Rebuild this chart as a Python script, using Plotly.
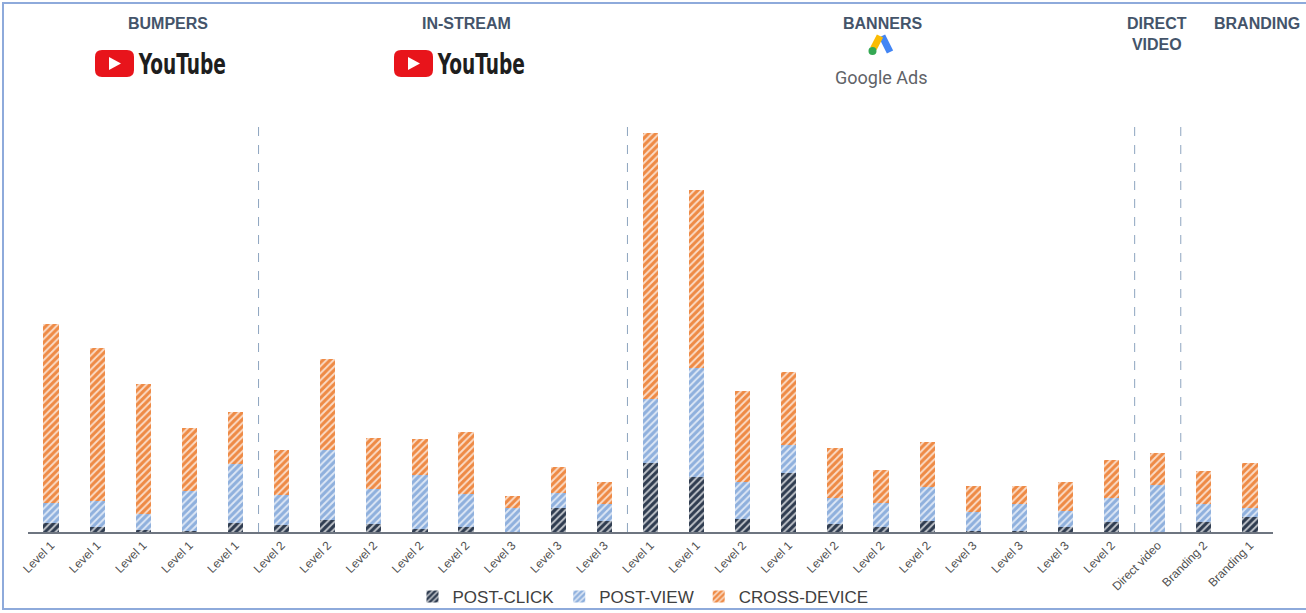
import plotly.graph_objects as go

# ---- data -------------------------------------------------------------
labels = [
    "Level 1", "Level 1", "Level 1", "Level 1", "Level 1",
    "Level 2", "Level 2", "Level 2", "Level 2", "Level 2",
    "Level 3", "Level 3", "Level 3",
    "Level 1", "Level 1", "Level 2", "Level 1", "Level 2", "Level 2",
    "Level 2", "Level 3", "Level 3", "Level 3", "Level 2",
    "Direct video", "Branding 2", "Branding 1",
]
post_click = [9, 5, 2, 1, 9, 7, 12, 8, 3, 5, 0, 24, 11,
              69, 55, 13, 59, 8, 5, 11, 1, 1, 5, 10, 0, 10, 15]
post_view = [20, 26, 16, 40, 59, 30, 70, 35, 54, 33, 24, 15, 17,
             64, 109, 37, 28, 26, 24, 34, 19, 27, 16, 24, 47, 18, 9]
cross_device = [179, 153, 130, 63, 52, 45, 91, 51, 36, 62, 12, 26, 22,
                266, 178, 91, 73, 50, 33, 45, 26, 18, 29, 38, 32, 33, 45]
series_names = ["POST-CLICK", "POST-VIEW", "CROSS-DEVICE"]
group_breaks = [4.5, 12.5, 23.5, 24.5]

# ---- geometry of the canvas -------------------------------------------
W, H = 1306, 613
ML, MR, MT, MB = 28, 33, 100, 81
PW, PH = W - ML - MR, H - MT - MB


def px(x):
    return (x - ML) / PW


def py(y):
    return (H - MB - y) / PH


colors = ["#2F3C50", "#8FB0DD", "#EE8A45"]
xs = list(range(len(labels)))

fig = go.Figure()
for name, vals, col in zip(series_names, [post_click, post_view, cross_device], colors):
    fig.add_trace(go.Bar(
        x=xs, y=vals, name=name, width=0.33,
        marker=dict(
            color=col, line=dict(width=0),
            pattern=dict(shape="/", fgcolor="white", fgopacity=0.7,
                         fillmode="overlay", size=5, solidity=0.38),
        ),
    ))

shapes = []
# dashed separators between campaign groups
for b in group_breaks:
    shapes.append(dict(type="line", xref="x", yref="paper", x0=b, x1=b,
                       y0=0, y1=py(120),
                       line=dict(color="#8DA4BF", width=1, dash="dash")))

# outer frame
shapes.append(dict(type="rect", xref="paper", yref="paper",
                   x0=px(3), x1=px(1320), y0=py(3), y1=py(609),
                   line=dict(color="#8EAADB", width=2)))


def rounded_rect(x0, y0, x1, y1, r):
    return (f"M {px(x0 + r)} {py(y0)} L {px(x1 - r)} {py(y0)} "
            f"Q {px(x1)} {py(y0)} {px(x1)} {py(y0 + r)} "
            f"L {px(x1)} {py(y1 - r)} Q {px(x1)} {py(y1)} {px(x1 - r)} {py(y1)} "
            f"L {px(x0 + r)} {py(y1)} Q {px(x0)} {py(y1)} {px(x0)} {py(y1 - r)} "
            f"L {px(x0)} {py(y0 + r)} Q {px(x0)} {py(y0)} {px(x0 + r)} {py(y0)} Z")


def triangle(cx, cy):
    return (f"M {px(cx - 5)} {py(cy - 6.5)} L {px(cx - 5)} {py(cy + 6.5)} "
            f"L {px(cx + 7)} {py(cy)} Z")


annotations = []
# YouTube logos
for lx in [95, 394]:
    shapes.append(dict(type="path", xref="paper", yref="paper",
                       path=rounded_rect(lx, 50, lx + 39, 77, 7),
                       fillcolor="#E8141B", line=dict(width=0)))
    shapes.append(dict(type="path", xref="paper", yref="paper",
                       path=triangle(lx + 19, 63.5),
                       fillcolor="white", line=dict(width=0)))
    annotations.append(dict(x=px(lx + 41), y=py(64.5), xref="paper", yref="paper",
                            xanchor="left", yanchor="middle", showarrow=False,
                            text="<b>YouTube</b>",
                            font=dict(family="DejaVu Sans Condensed, DejaVu Sans",
                                      size=28, color="#1E1E1E")))

# Google Ads mark
shapes.append(dict(type="line", xref="paper", yref="paper",
                   x0=px(882), y0=py(36), x1=px(890), y1=py(52),
                   line=dict(color="#4285F4", width=7)))
shapes.append(dict(type="line", xref="paper", yref="paper",
                   x0=px(880), y0=py(36), x1=px(873.5), y1=py(48.5),
                   line=dict(color="#FBBC04", width=7)))
shapes.append(dict(type="circle", xref="paper", yref="paper",
                   x0=px(868.5), x1=px(876.5), y0=py(47), y1=py(55),
                   fillcolor="#34A853", line=dict(width=0)))
annotations.append(dict(x=px(881), y=py(77.5), xref="paper", yref="paper",
                        xanchor="center", yanchor="middle", showarrow=False,
                        text="Google Ads",
                        font=dict(family="Roboto, Open Sans, sans-serif", size=18, color="#5F6368")))

# group headers
header_font = dict(family="Liberation Sans, Arial", size=16, color="#44546A")
for text, hx, hy in [("BUMPERS", 168, 23.5), ("IN-STREAM", 466, 23.5), ("BANNERS", 882, 23.5),
                     ("DIRECT<br>VIDEO", 1157, 33.5), ("BRANDING", 1257, 23.5)]:
    annotations.append(dict(x=px(hx), y=py(hy), xref="paper", yref="paper",
                            xanchor="center", yanchor="middle", showarrow=False,
                            text=f"<b>{text}</b>", font=header_font))

fig.update_layout(
    width=W, height=H,
    margin=dict(l=ML, r=MR, t=MT, b=MB, autoexpand=False),
    paper_bgcolor="white", plot_bgcolor="white",
    barmode="stack",
    xaxis=dict(range=[-0.5, len(labels) - 0.5], tickvals=xs, ticktext=labels,
               tickangle=-45, showgrid=False, zeroline=False, ticks="",
               automargin=False,
               showline=True, linecolor="#6E7580", linewidth=1.5,
               tickfont=dict(family="Liberation Sans, Arial", size=12, color="#505050")),
    yaxis=dict(range=[0, PH], visible=False, automargin=False),
    legend=dict(orientation="h", x=px(643), xanchor="center", y=py(597), yanchor="middle",
                font=dict(family="Liberation Sans, Arial", size=17, color="#404040"),
                itemwidth=30, traceorder="normal", bgcolor="rgba(0,0,0,0)"),
    shapes=shapes,
    annotations=annotations,
    showlegend=True,
)

# narrow the wordmark horizontally, anchored at its left edge
condense_js = """
document.querySelectorAll('text.annotation-text').forEach(function (t) {
  if (t.textContent === 'YouTube') {
    var bb = t.getBBox();
    var k = 88 / bb.width;
    t.setAttribute('transform',
      'translate(' + bb.x + ',0) scale(' + k + ',1) translate(' + (-bb.x) + ',0)');
  }
});
"""

fig.write_html("out.html", post_script=condense_js)
